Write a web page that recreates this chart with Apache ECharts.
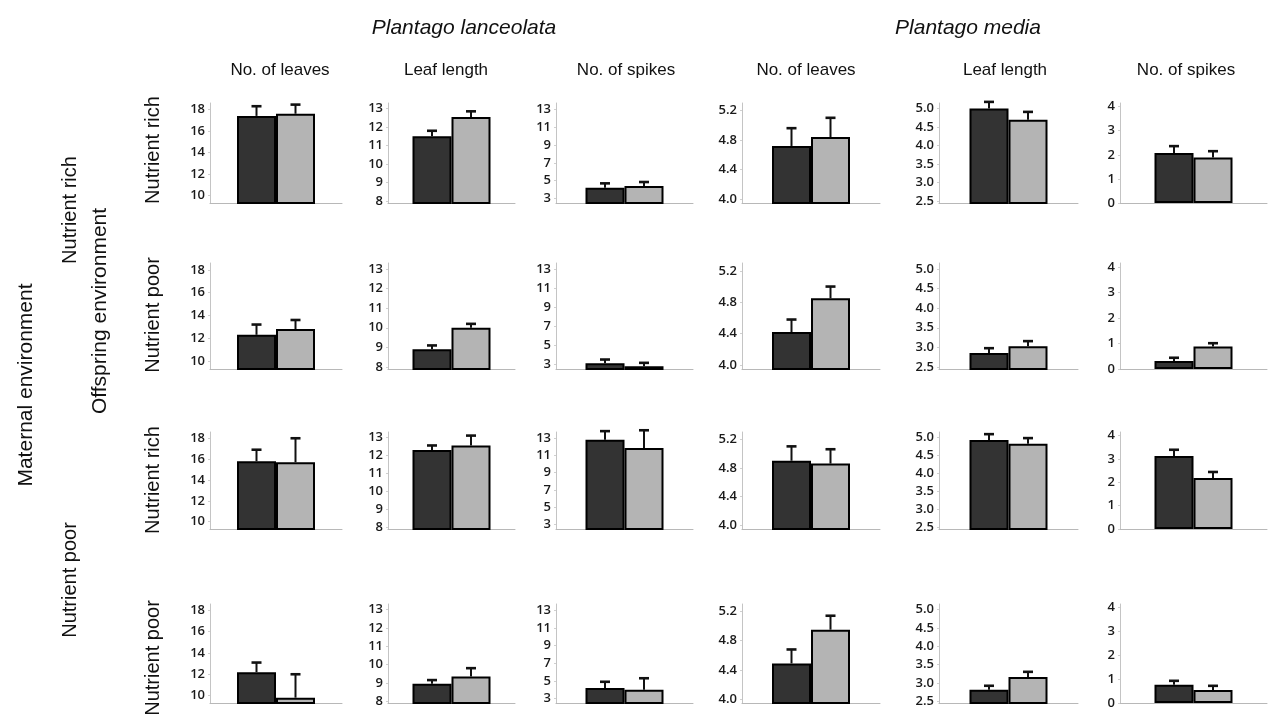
<!DOCTYPE html>
<html>
<head>
<meta charset="utf-8">
<script src="https://cdn.jsdelivr.net/npm/echarts@6/dist/echarts.min.js"></script>
<style>
html,body{margin:0;padding:0;background:#fff;}
#chart{width:1270px;height:717px;}
</style>
</head>
<body>
<div id="chart"></div>
<script>
// ---- data ----
const speciesNames = ['Plantago lanceolata', 'Plantago media'];
const colNames = ['No. of leaves', 'Leaf length', 'No. of spikes', 'No. of leaves', 'Leaf length', 'No. of spikes'];
const offspringRowNames = ['Nutrient rich', 'Nutrient poor', 'Nutrient rich', 'Nutrient poor'];
const maternalNames = ['Nutrient rich', 'Nutrient poor'];
const yMin = [9.3, 7.9, 2.5, 3.95, 2.45, 0];
const yMax = [18.6, 13.3, 13.7, 5.3, 5.15, 4.15];
const yTicks = [
  [10, 12, 14, 16, 18],
  [8, 9, 10, 11, 12, 13],
  [3, 5, 7, 9, 11, 13],
  [4.0, 4.4, 4.8, 5.2],
  [2.5, 3.0, 3.5, 4.0, 4.5, 5.0],
  [0, 1, 2, 3, 4]
];
const tickDecimals = [0, 0, 0, 1, 1, 0];
// rows: maternal rich/offspring rich, maternal rich/offspring poor, maternal poor/offspring rich, maternal poor/offspring poor
const darkMeans = [
  [17.4, 11.5, 4.2, 4.72, 5.0, 2.08],
  [12.3, 8.9, 3.1, 4.42, 2.86, 0.31],
  [15.8, 12.3, 12.8, 4.9, 4.93, 3.12],
  [12.2, 8.95, 4.2, 4.49, 2.81, 0.77]
];
const darkErr = [
  [0.9, 0.3, 0.5, 0.24, 0.18, 0.28],
  [0.9, 0.2, 0.4, 0.16, 0.12, 0.13],
  [1.1, 0.25, 1.0, 0.2, 0.16, 0.27],
  [0.9, 0.2, 0.7, 0.19, 0.11, 0.16]
];
const lightMeans = [
  [17.6, 12.55, 4.4, 4.84, 4.7, 1.89],
  [12.8, 10.0, 2.8, 4.85, 3.03, 0.88],
  [15.7, 12.55, 11.85, 4.86, 4.82, 2.18],
  [9.8, 9.35, 4.0, 4.95, 3.16, 0.55]
];
const lightErr = [
  [0.85, 0.3, 0.45, 0.26, 0.21, 0.26],
  [0.8, 0.2, 0.35, 0.15, 0.13, 0.13],
  [2.3, 0.55, 2.05, 0.2, 0.16, 0.26],
  [2.2, 0.45, 1.3, 0.19, 0.14, 0.17]
];

// ---- layout ----
const colLeft = [210, 388, 556, 742, 939, 1120];
const colWidth = [132, 127, 137, 138, 139, 147];
const rowTop = [103, 263, 432, 604];
const rowBottom = [203, 369, 529, 703];
const BAR_W = 39;
const DARK = '#333333', LIGHT = '#b4b4b4';
const FONT = 'Liberation Sans, Arial, sans-serif';

const grids = [], xAxes = [], yAxes = [], series = [];
let idx = 0;
function errSeries(i, mean, err, offset) {
  return {
    type: 'custom', xAxisIndex: i, yAxisIndex: i, z: 5, silent: true,
    data: [[0, mean, err]],
    encode: { x: 0, y: 1 },
    renderItem: function (params, api) {
      const c = api.coord([api.value(0), api.value(1)]);
      const t = api.coord([api.value(0), api.value(1) + api.value(2)]);
      const x = c[0] + offset;
      return {
        type: 'group', children: [
          { type: 'line', shape: { x1: x, y1: c[1], x2: x, y2: t[1] }, style: { stroke: '#111', lineWidth: 2 } },
          { type: 'line', shape: { x1: x - 5, y1: t[1], x2: x + 5, y2: t[1] }, style: { stroke: '#111', lineWidth: 2.6 } }
        ]
      };
    }
  };
}
for (let r = 0; r < 4; r++) {
  for (let c = 0; c < 6; c++) {
    const i = idx++;
    grids.push({
      left: colLeft[c], top: rowTop[r], width: colWidth[c], height: rowBottom[r] - rowTop[r],
      containLabel: false, outerBoundsMode: 'none'
    });
    xAxes.push({
      type: 'category', gridIndex: i, data: [''],
      axisLine: { show: true, onZero: false, lineStyle: { color: '#b8b8b8', width: 1 } },
      axisTick: { show: false }, axisLabel: { show: false }, splitLine: { show: false }
    });
    const dec = tickDecimals[c];
    yAxes.push({
      type: 'value', gridIndex: i, min: yMin[c], max: yMax[c],
      axisLine: { show: true, lineStyle: { color: '#c4c4c4', width: 1 } },
      axisTick: { show: true, length: 2, lineStyle: { color: '#d0d0d0' }, customValues: yTicks[c] },
      axisLabel: {
        show: true, customValues: yTicks[c], margin: 5,
        fontFamily: 'Open Sans, sans-serif', fontSize: 13, fontWeight: 600, color: '#1a1a1a',
        formatter: v => Number(v).toFixed(dec)
      },
      splitLine: { show: false }
    });
    series.push({
      type: 'bar', xAxisIndex: i, yAxisIndex: i, barWidth: BAR_W, barGap: '0%',
      data: [darkMeans[r][c]], silent: true,
      itemStyle: { color: DARK, borderColor: '#000', borderWidth: 2 }
    });
    series.push({
      type: 'bar', xAxisIndex: i, yAxisIndex: i, barWidth: BAR_W, barGap: '0%',
      data: [lightMeans[r][c]], silent: true,
      itemStyle: { color: LIGHT, borderColor: '#000', borderWidth: 2 }
    });
    series.push(errSeries(i, darkMeans[r][c], darkErr[r][c], -BAR_W / 2));
    series.push(errSeries(i, lightMeans[r][c], lightErr[r][c], BAR_W / 2));
  }
}

// ---- text ----
const graphics = [];
function txt(text, x, y, size, opts) {
  opts = opts || {};
  graphics.push({
    type: 'text', x: x, y: y, rotation: opts.rot || 0, silent: true,
    style: {
      text: text, fill: '#111', font: (opts.italic ? 'italic ' : '') + size + 'px ' + FONT,
      textAlign: 'center', textVerticalAlign: 'middle'
    }
  });
}
txt(speciesNames[0], 464, 28, 21, { italic: true });
txt(speciesNames[1], 968, 28, 21, { italic: true });
const colHeaderX = [280, 446, 626, 806, 1005, 1186];
colNames.forEach((n, c) => txt(n, colHeaderX[c], 70, 17));
const rowLabelY = [150, 315, 480, 658];
offspringRowNames.forEach((n, r) => txt(n, 153, rowLabelY[r], 20, { rot: Math.PI / 2 }));
txt('Offspring environment', 100, 311, 21, { rot: Math.PI / 2 });
txt(maternalNames[0], 70, 210, 20, { rot: Math.PI / 2 });
txt(maternalNames[1], 70, 580, 20, { rot: Math.PI / 2 });
txt('Maternal environment', 26, 385, 21, { rot: Math.PI / 2 });

const chart = echarts.init(document.getElementById('chart'), null, { renderer: 'canvas' });
chart.setOption({
  animation: false,
  backgroundColor: '#fff',
  grid: grids, xAxis: xAxes, yAxis: yAxes, series: series,
  graphic: graphics
});
</script>
</body>
</html>
